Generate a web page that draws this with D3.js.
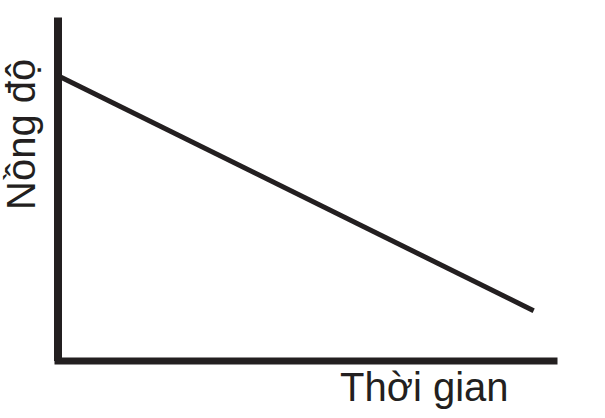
<!DOCTYPE html>
<html>
<head>
<meta charset="utf-8">
<script src="https://cdn.jsdelivr.net/npm/d3@7"></script>
<style>
  body { margin: 0; background: #fff; }
  .lbl { font-family: 'Liberation Sans', Arial, sans-serif; font-size: 40px; fill: #231f20; }
</style>
</head>
<body>
<div id="chart"></div>
<script>
// data (no ticks, so arbitrary units 0-10)
var times = [0, 9.6];
var concentrations = [8.3, 1.45];
var xTitle = 'Thời gian';
var yTitle = 'Nồng độ';

var svgWidth = 605;
var svgHeight = 418;

var svg = d3.select('#chart')
    .append('svg')
    .attr('width', svgWidth)
    .attr('height', svgHeight);

// scales
var xScale = d3.scaleLinear()
    .domain([0, 10])
    .range([57.5, 553.5]);

var yScale = d3.scaleLinear()
    .domain([0, 10])
    .range([360.5, 17]);

// axes without ticks, just the thick domain lines
var bottomAxis = d3.axisBottom(xScale).ticks(0).tickSizeOuter(0);
var leftAxis = d3.axisLeft(yScale).ticks(0).tickSizeOuter(0);

var xAxis = svg.append('g')
    .attr('transform', `translate(0, ${yScale(0)})`)
    .call(bottomAxis);

var yAxis = svg.append('g')
    .attr('transform', `translate(${xScale(0)}, 0)`)
    .call(leftAxis);

xAxis.select('.domain')
    .attr('stroke', '#231f20')
    .attr('stroke-width', 7)
    .attr('stroke-linecap', 'square');

yAxis.select('.domain')
    .attr('stroke', '#231f20')
    .attr('stroke-width', 8);

// the falling line
var points = times.map((t, i) => [t, concentrations[i]]);

var line = d3.line()
    .x(d => xScale(d[0]))
    .y(d => yScale(d[1]));

svg.append('path')
    .datum(points)
    .attr('d', line)
    .attr('fill', 'none')
    .attr('stroke', '#231f20')
    .attr('stroke-width', 5);

// labels
svg.append('text')
    .attr('class', 'lbl')
    .attr('x', 340)
    .attr('y', 401)
    .text(xTitle);

svg.append('text')
    .attr('class', 'lbl')
    .attr('transform', 'translate(35, 210) rotate(-90)')
    .text(yTitle);
</script>
</body>
</html>
